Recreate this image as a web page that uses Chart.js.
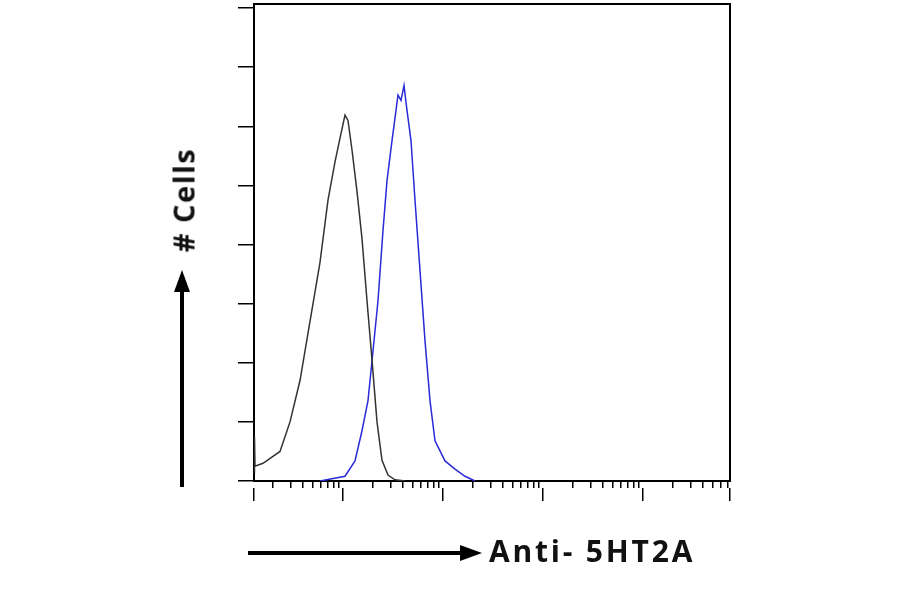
<!DOCTYPE html>
<html><head><meta charset="utf-8">
<script src="https://cdn.jsdelivr.net/npm/chart.js@4/dist/chart.umd.min.js"></script>
<style>
html,body{margin:0;padding:0;background:#fff;}
#wrap{position:relative;width:900px;height:594px;}
.lbl{position:absolute;font-family:"Open Sans",sans-serif;font-weight:bold;font-size:30px;color:#111;white-space:nowrap;letter-spacing:2.8px;}
</style></head><body>
<div id="wrap"><canvas id="c" width="900" height="594"></canvas>
<div class="lbl" style="left:489px;top:530px;">Anti- 5HT2A</div>
<div class="lbl" style="left:183px;top:200px;transform:translate(-50%,-50%) rotate(-90deg);letter-spacing:1.5px;font-size:29px;">#&nbsp;Cells</div>
</div>
<script>
// x in decades (log10 units), y in counts (arbitrary)
const isoX = [0.11,0.115,0.12,0.2,0.37,0.47,0.57,0.67,0.77,0.85,0.92,0.97,1.02,1.05,1.09,1.14,1.19,1.24,1.29,1.34,1.39,1.45,1.52,1.62];
const isoY = [0.15,0.75,0.25,0.3,0.5,1.0,1.7,2.7,3.7,4.75,5.4,5.8,6.19,6.1,5.6,4.9,4.1,3.05,2.05,1.0,0.35,0.1,0.02,0.0];
const abX = [0.77,1.02,1.12,1.19,1.25,1.29,1.35,1.40,1.44,1.49,1.53,1.55,1.58,1.61,1.64,1.68,1.72,1.77,1.82,1.87,1.92,2.02,2.12,2.22,2.32];
const abY = [0.0,0.08,0.34,0.85,1.36,2.03,3.05,4.24,5.08,5.76,6.27,6.53,6.44,6.69,6.27,5.76,4.75,3.56,2.37,1.36,0.68,0.34,0.2,0.08,0.0];
const yTicks = [0,1,2,3,4,5,6,7,8];
const decades = [0,1,2,3,4];
const xMin = 0.11, xMax = 4.87;

const minorT = [], majorT = [];
decades.forEach(d=>{ for(let k=1;k<=9;k++){ const v=d+Math.log10(k); if(v>=xMin-0.001&&v<=xMax){ (k===1?majorT:minorT).push(v);} } });
majorT.push(xMin); majorT.push(xMax);

const arrows = {id:'arrows', afterDraw(ch){
  const c=ch.ctx; c.save(); c.fillStyle='#000'; c.strokeStyle='#000'; c.lineWidth=4;
  c.beginPath(); c.moveTo(182,487); c.lineTo(182,290); c.stroke();
  c.beginPath(); c.moveTo(182,270); c.lineTo(174,292); c.lineTo(190,292); c.closePath(); c.fill();
  c.beginPath(); c.moveTo(248,553); c.lineTo(460,553); c.stroke();
  c.beginPath(); c.moveTo(482,553); c.lineTo(460,545); c.lineTo(460,561); c.closePath(); c.fill();
  c.restore();
}};
function pts(xs,ys){return xs.map((x,i)=>({x,y:ys[i]}));}
new Chart(document.getElementById('c'),{
  type:'line',
  data:{datasets:[
    {data:pts(isoX,isoY),borderColor:'#333',borderWidth:1.5,pointRadius:0,tension:0,fill:false},
    {data:pts(abX,abY),borderColor:'#2a2ad8',borderWidth:1.5,pointRadius:0,tension:0,fill:false}
  ]},
  plugins:[arrows],
  options:{responsive:false,animation:false,events:[],
    layout:{padding:{left:238,right:170,top:4,bottom:93}},
    plugins:{legend:{display:false},tooltip:{enabled:false}},
    scales:{
      x:{type:'linear',min:xMin,max:xMax,position:'bottom',
        afterBuildTicks:a=>{a.ticks=minorT.map(v=>({value:v}));},
        ticks:{display:false},
        grid:{drawOnChartArea:false,tickLength:7,color:'#000',lineWidth:1.5},
        border:{color:'#000',width:2}},
      x2:{type:'linear',min:xMin,max:xMax,position:'bottom',
        afterBuildTicks:a=>{a.ticks=majorT.map(v=>({value:v}));},
        ticks:{display:false},
        grid:{drawOnChartArea:false,tickLength:13,color:'#000',lineWidth:1.5},
        border:{display:false}},
      y:{type:'linear',min:0,max:8.07,position:'left',
        afterBuildTicks:a=>{a.ticks=yTicks.map(v=>({value:v}));},
        ticks:{display:false},
        grid:{drawOnChartArea:false,tickLength:16,color:'#000',lineWidth:1.5},
        border:{color:'#000',width:2}},
      yr:{type:'linear',min:0,max:8.07,position:'right',ticks:{display:false},
        grid:{display:false,drawTicks:false},border:{color:'#000',width:2}},
      xt:{type:'linear',position:'top',min:xMin,max:xMax,ticks:{display:false},
        grid:{display:false,drawTicks:false},border:{color:'#000',width:2}}
    }}
});
</script></body></html>
